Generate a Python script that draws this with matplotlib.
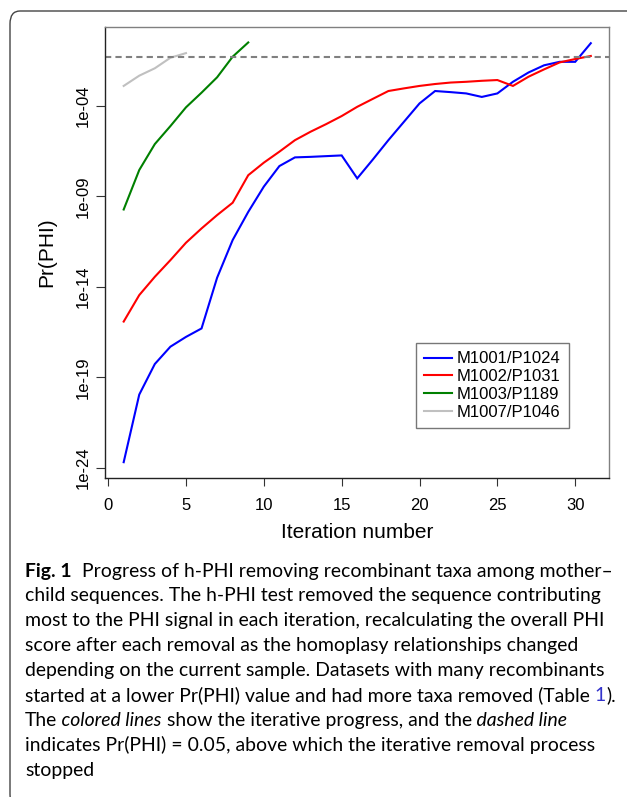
import matplotlib
matplotlib.use("Agg")
import matplotlib.pyplot as plt
from matplotlib.patches import FancyBboxPatch

# Pr(PHI) per iteration
blue_x = list(range(1, 32))
blue_y = [2.0e-24, 1.1e-20, 5.4e-19, 4.9e-18, 1.7e-17, 5.0e-17, 3.2e-14, 3.9e-12,
          1.4e-10, 3.5e-9, 4.8e-8, 1.45e-7, 1.55e-7, 1.7e-7, 1.86e-7, 1.0e-8,
          1.1e-7, 1.3e-6, 1.35e-5, 1.4e-4, 6.8e-4, 5.9e-4, 5.0e-4, 3.2e-4,
          5.0e-4, 2.2e-3, 7.2e-3, 0.018, 0.028, 0.028, 0.30]
red_x = list(range(1, 32))
red_y = [1.2e-16, 3.5e-15, 3.6e-14, 3.0e-13, 2.75e-12, 1.7e-11, 9.3e-11, 4.5e-10,
         1.5e-8, 7.4e-8, 3.0e-7, 1.3e-6, 3.8e-6, 1.0e-5, 2.8e-5, 9.1e-5,
         2.5e-4, 6.8e-4, 9.5e-4, 1.3e-3, 1.66e-3, 2.0e-3, 2.2e-3, 2.5e-3,
         2.75e-3, 1.3e-3, 4.2e-3, 0.0107, 0.026, 0.040, 0.059]
green_x = list(range(1, 10))
green_y = [1.9e-10, 2.9e-8, 7.9e-7, 7.8e-6, 8.5e-5, 5.5e-4, 3.9e-3, 0.054, 0.33]
gray_x = list(range(1, 6))
gray_y = [1.3e-3, 4.8e-3, 0.0123, 0.047, 0.085]

labels = ["M1001/P1024", "M1002/P1031", "M1003/P1189", "M1007/P1046"]
colors = ["#0000ff", "#ff0000", "#008000", "#c0c0c0"]
threshold = 0.05

xticks = [0, 5, 10, 15, 20, 25, 30]
yticks = [1e-24, 1e-19, 1e-14, 1e-09, 1e-04]
ytick_labels = ["1e-24", "1e-19", "1e-14", "1e-09", "1e-04"]

plt.rcParams["font.family"] = ["Liberation Sans", "DejaVu Sans"]

W, H = 627, 797
fig = plt.figure(figsize=(W / 100, H / 100), dpi=100)
ax = fig.add_axes([105 / W, 1 - 478.3 / H, (608.7 - 105) / W, (478.3 - 26.7) / H])

series = [(blue_x, blue_y), (red_x, red_y), (green_x, green_y), (gray_x, gray_y)]
for (xs, ys), c, lab in zip(series, colors, labels):
    ax.plot(xs, ys, color=c, lw=1.5, label=lab, solid_joinstyle="miter")

# threshold line, Pr(PHI) = 0.05
ax.axhline(threshold, color="#808080", lw=1.5, dashes=(3, 2))

ax.set_yscale("log")
ax.set_xlim(-0.2, 32.15)
ax.set_ylim(10 ** -24.59, 10 ** 0.39)
ax.set_xticks(xticks)
ax.set_yticks(yticks)
ax.set_yticklabels(ytick_labels)
ax.minorticks_off()
ax.tick_params(axis="both", direction="out", labelsize=12, width=0.8, color="#333333")
ax.tick_params(axis="x", length=6, pad=8.5)
ax.tick_params(axis="y", length=6.5, pad=4)
for t in ax.get_yticklabels():
    t.set_rotation(90)
    t.set_va("center")

for side in ["top", "right"]:
    ax.spines[side].set_color("#808080")
for side in ["bottom", "left"]:
    ax.spines[side].set_color("#222222")
for s in ax.spines.values():
    s.set_linewidth(1.0)

ax.set_xlabel("Iteration number", fontsize=15, labelpad=7)
ax.set_ylabel("Pr(PHI)", fontsize=15, labelpad=14)

leg = ax.legend(loc="lower right", bbox_to_anchor=(0.921, 0.111), borderaxespad=0,
                fontsize=12, frameon=True, fancybox=False, edgecolor="#555555",
                handlelength=1.65, handletextpad=0.3, labelspacing=0.17,
                borderpad=0.5)
leg.get_frame().set_linewidth(1.0)

# outer frame with rounded corner
frame = FancyBboxPatch((10 / W, -10 / H), 700 / W, (H - 11 + 10) / H,
                       boxstyle="round,pad=0,rounding_size=0.016",
                       transform=fig.transFigure, fill=False,
                       edgecolor="#444444", lw=1.0, clip_on=False)
fig.patches.append(frame)

# caption, sized so the second line fills the measured width
cap_font = ["Lato", "DejaVu Sans"]
fig.canvas.draw()
renderer = fig.canvas.get_renderer()
probe = fig.text(0, 0, "child sequences. The h-PHI test removed the sequence contributing",
                 family=cap_font, fontsize=10)
w = probe.get_window_extent(renderer).width
probe.remove()
cap_size = 10 * 577 / w

cap_lines = [
    [("Fig. 1", "bold", "black"), ("  Progress of h-PHI removing recombinant taxa among mother\u2013", "normal", "black")],
    [("child sequences. The h-PHI test removed the sequence contributing", "normal", "black")],
    [("most to the PHI signal in each iteration, recalculating the overall PHI", "normal", "black")],
    [("score after each removal as the homoplasy relationships changed", "normal", "black")],
    [("depending on the current sample. Datasets with many recombinants", "normal", "black")],
    [("started at a lower Pr(PHI) value and had more taxa removed (Table", "normal", "black"),
     (" 1", "normal", "#3333cc"), (").", "normal", "black")],
    [("The", "normal", "black"), (" colored lines", "italic", "black"),
     (" show the iterative progress, and the", "normal", "black"), (" dashed line", "italic", "black")],
    [("indicates Pr(PHI) = 0.05, above which the iterative removal process", "normal", "black")],
    [("stopped", "normal", "black")],
]

y0 = 571
for i, chunks in enumerate(cap_lines):
    yc = 1 - (y0 + i * 24.9) / H
    prev = None
    for text, style, col in chunks:
        kw = dict(family=cap_font, fontsize=cap_size, color=col)
        if style == "bold":
            kw["weight"] = "bold"
        elif style == "italic":
            kw["style"] = "italic"
        if prev is None:
            prev = fig.text(25 / W, yc, text, va="center", ha="left", **kw)
        else:
            # continue the line right after the previous chunk
            prev = ax.annotate(text, xy=(1, 0), xycoords=prev, va="bottom", ha="left",
                               annotation_clip=False, **kw)

fig.savefig("out.png", dpi=100)
